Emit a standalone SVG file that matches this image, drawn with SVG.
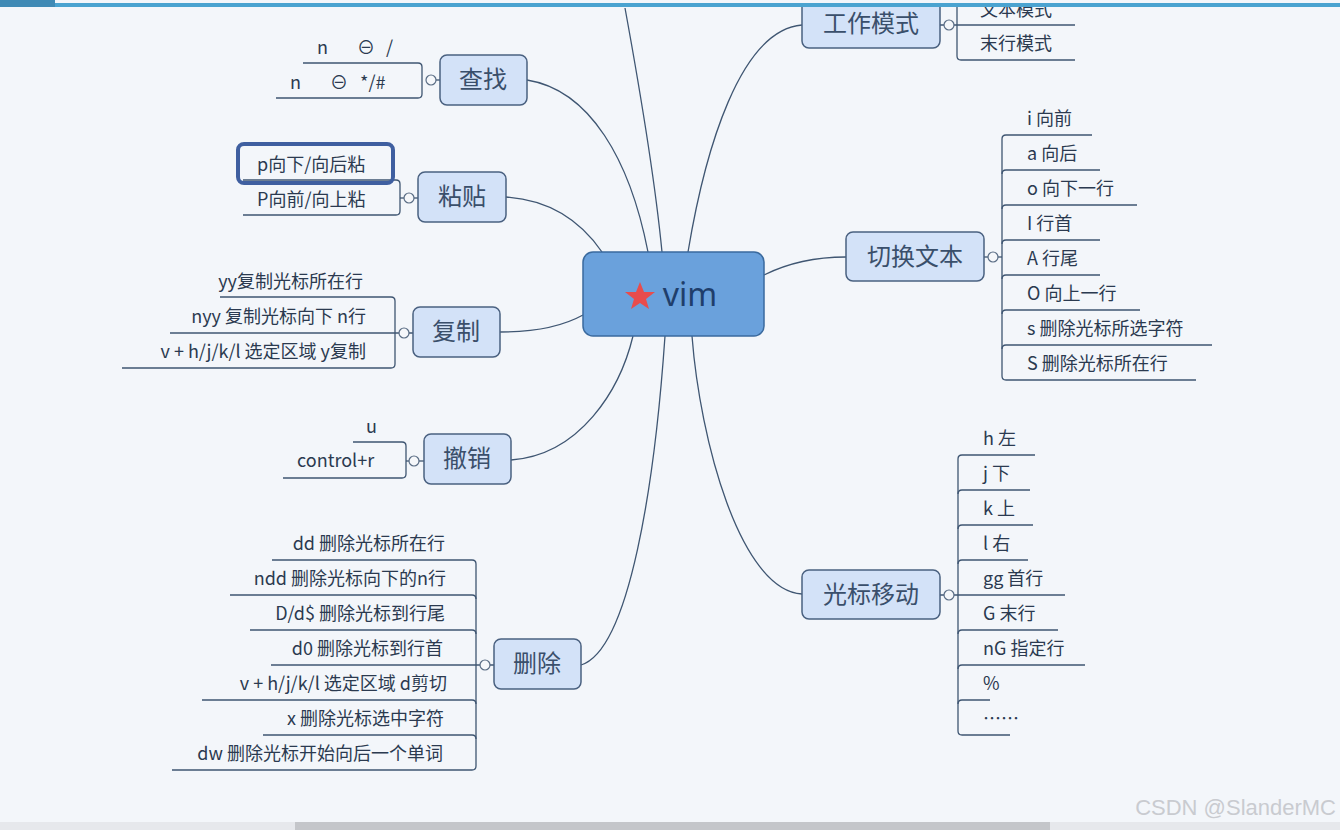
<svg xmlns="http://www.w3.org/2000/svg" width="1340" height="830" viewBox="0 0 1340 830">
<style>
.n rect{fill:#d3e2f8;stroke:#4a6180;stroke-width:1.5}
.n text{font-family:"Noto Sans CJK SC","Noto Sans",sans-serif;font-size:24px;fill:#3a4f6b;text-anchor:middle}
.t{font-family:"Noto Sans CJK SC","Noto Sans",sans-serif;font-size:18px;fill:#2b3a50}
.r{text-anchor:end}
.c path,.c line{fill:none;stroke:#3f5672;stroke-width:1.3}
.c circle{fill:#f5f7fa;stroke:#5a6d85;stroke-width:1.2}
</style>
<rect width="1340" height="830" fill="#f3f6fa"/>
<g class="c" id="connectors">
<path d="M625,8 C640,90 655,180 662,252"/>
<path d="M527,80 C590,90 630,160 648,252"/>
<path d="M506,197 C550,200 580,220 602,252"/>
<path d="M802,25 C740,30 705,150 688,252"/>
<path d="M764,275 C790,262 815,257 846,257"/>
<path d="M500,332 C540,332 565,325 583,315"/>
<path d="M511,460 C580,455 620,390 633,336"/>
<path d="M581,665 C630,650 655,480 665,336"/>
<path d="M802,594 C740,590 700,440 692,336"/>
<path d="M303,63 H418 Q422,63 422,67 V94 Q422,98 418,98 H276"/>
<line x1="427" y1="80" x2="440" y2="80"/><circle cx="431" cy="80" r="5"/>
<path d="M243,180 H396 Q400,180 400,184 V211 Q400,215 396,215 H243"/>
<line x1="400" y1="198" x2="418" y2="198"/><circle cx="409" cy="198" r="5"/>
<path d="M220,297 H391 Q395,297 395,301 V364 Q395,368 391,368 H122"/>
<line x1="170" y1="333" x2="413" y2="333"/><circle cx="404" cy="333" r="5"/>
<path d="M353,442 H402 Q406,442 406,446 V474 Q406,478 402,478 H283"/>
<line x1="406" y1="461" x2="424" y2="461"/><circle cx="414" cy="461" r="5"/>
<path d="M272,560 H472 Q476,560 476,564 V766 Q476,770 472,770 H172"/>
<path d="M230,595 H472 Q476,595 476,599 M250,630 H472 Q476,630 476,634 M202,700 H472 Q476,700 476,704 M263,735 H472 Q476,735 476,739"/>
<line x1="271" y1="665" x2="494" y2="665"/><circle cx="485" cy="665" r="5"/>
<path d="M957,0 V56 Q957,60 961,60 H1075"/>
<line x1="940" y1="25" x2="1075" y2="25"/><circle cx="949" cy="25" r="5"/>
<path d="M1092,135 H1006 Q1002,135 1002,139 V376 Q1002,380 1006,380 H1196"/>
<path d="M1002,174 Q1002,170 1006,170 H1100 M1002,209 Q1002,205 1006,205 H1137 M1002,244 Q1002,240 1006,240 H1100 M1002,279 Q1002,275 1006,275 H1100 M1002,314 Q1002,310 1006,310 H1140 M1002,349 Q1002,345 1006,345 H1212"/>
<line x1="984" y1="257" x2="1002" y2="257"/><circle cx="993" cy="257" r="5"/>
<path d="M1035,455 H962 Q958,455 958,459 V731 Q958,735 962,735 H1010"/>
<path d="M958,494 Q958,490 962,490 H1030 M958,529 Q958,525 962,525 H1033 M958,564 Q958,560 962,560 H1028 M958,634 Q958,630 962,630 H1058 M958,669 Q958,665 962,665 H1085 M958,704 Q958,700 962,700 H990"/>
<line x1="940" y1="595" x2="1065" y2="595"/><circle cx="949" cy="595" r="5"/>
</g>
<g id="vim"><rect x="583" y="252" width="181" height="84" rx="10" fill="#6aa1dc" stroke="#3a6a9e" stroke-width="1.5"/>
<polygon points="640,282 644,292 655,292 646,299 649,309 640,303 631,309 634,299 625,292 636,292" fill="#e84c4c"/>
<text x="690" y="306" font-family="Noto Sans, sans-serif" font-size="32" fill="#1f3e6b" text-anchor="middle">vim</text></g>
<g class="n" id="chazhao"><rect x="440" y="55" width="87" height="50" rx="7"/><text x="483" y="88">查找</text></g>
<g class="n" id="zhantie"><rect x="418" y="172" width="88" height="50" rx="7"/><text x="462" y="205">粘贴</text></g>
<g class="n" id="fuzhi"><rect x="413" y="307" width="87" height="50" rx="7"/><text x="456" y="340">复制</text></g>
<g class="n" id="chexiao"><rect x="424" y="434" width="87" height="50" rx="7"/><text x="467" y="467">撤销</text></g>
<g class="n" id="shanchu"><rect x="494" y="639" width="87" height="50" rx="7"/><text x="537" y="672">删除</text></g>
<g class="n" id="gongzuo"><rect x="802" y="-2" width="138" height="50" rx="7"/><text x="871" y="32">工作模式</text></g>
<g class="n" id="qiehuan"><rect x="846" y="232" width="138" height="49" rx="7"/><text x="915" y="265">切换文本</text></g>
<g class="n" id="guangbiao"><rect x="802" y="570" width="138" height="49" rx="7"/><text x="871" y="603">光标移动</text></g>
<g id="leaves">
<text class="t" x="317" y="54">n</text><text class="t" x="357" y="54">⊖</text><text class="t" x="386" y="54">/</text>
<text class="t" x="290" y="89">n</text><text class="t" x="330" y="89">⊖</text><text class="t" x="360" y="89">*/#</text>
<rect x="238" y="144" width="155" height="39" rx="6" fill="none" stroke="#3f5fa0" stroke-width="4"/>
<text class="t" x="257" y="171">p向下/向后粘</text>
<text class="t" x="257" y="206">P向前/向上粘</text>
<text class="t r" x="363" y="288">yy复制光标所在行</text>
<text class="t r" x="366" y="323">nyy 复制光标向下 n行</text>
<text class="t r" x="366" y="358">v + h/j/k/l 选定区域 y复制</text>
<text class="t" x="366" y="433">u</text>
<text class="t" x="297" y="467">control+r</text>
<text class="t r" x="445" y="550">dd 删除光标所在行</text>
<text class="t r" x="446" y="585">ndd 删除光标向下的n行</text>
<text class="t r" x="445" y="620">D/d$ 删除光标到行尾</text>
<text class="t r" x="443" y="655">d0 删除光标到行首</text>
<text class="t r" x="447" y="690">v + h/j/k/l 选定区域 d剪切</text>
<text class="t r" x="444" y="725">x 删除光标选中字符</text>
<text class="t r" x="443" y="760">dw 删除光标开始向后一个单词</text>
<text class="t" x="980" y="16">文本模式</text>
<text class="t" x="980" y="50">末行模式</text>
<text class="t" x="1027" y="125">i 向前</text>
<text class="t" x="1027" y="160">a 向后</text>
<text class="t" x="1027" y="195">o 向下一行</text>
<text class="t" x="1027" y="230">I 行首</text>
<text class="t" x="1027" y="265">A 行尾</text>
<text class="t" x="1027" y="300">O 向上一行</text>
<text class="t" x="1027" y="335">s 删除光标所选字符</text>
<text class="t" x="1027" y="370">S 删除光标所在行</text>
<text class="t" x="983" y="445">h 左</text>
<text class="t" x="983" y="480">j 下</text>
<text class="t" x="983" y="515">k 上</text>
<text class="t" x="983" y="550">l 右</text>
<text class="t" x="983" y="585">gg 首行</text>
<text class="t" x="983" y="620">G 末行</text>
<text class="t" x="983" y="655">nG 指定行</text>
<text class="t" x="983" y="690">%</text>
<text class="t" x="983" y="725">……</text>
</g>
<rect x="0" y="0" width="1340" height="3" fill="#f3f6fa"/>
<rect x="0" y="3" width="1340" height="4" fill="#4aa3d0"/>
<rect x="0" y="0" width="55" height="7" fill="#3f8ab5"/>
<rect x="0" y="822" width="1340" height="8" fill="#e6e8ec"/>
<rect x="295" y="822" width="755" height="8" fill="#c4c6ca"/>
<text x="1336" y="815" font-family="Liberation Sans, sans-serif" font-size="22" fill="#c9cbd0" text-anchor="end">CSDN @SlanderMC</text>
</svg>
